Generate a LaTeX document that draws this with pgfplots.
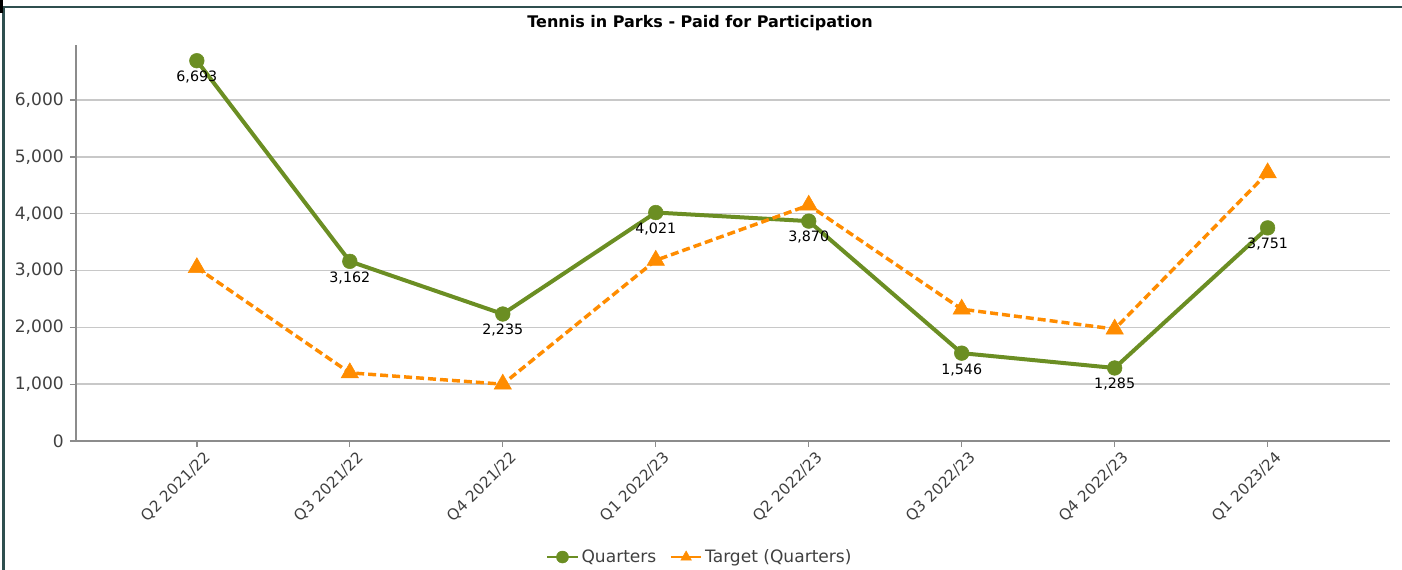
\documentclass[border=0pt]{standalone}
\usepackage{fontspec}
\setmainfont{DejaVu Sans}
\usepackage{pgfplots}
\pgfplotsset{compat=1.18}
\definecolor{qgreen}{HTML}{6B8E23}
\definecolor{torange}{HTML}{FF8C00}
\definecolor{framec}{HTML}{2F4F4F}
\definecolor{gridc}{HTML}{C8C8C8}
\definecolor{axc}{HTML}{8C8C8C}
\definecolor{lab}{HTML}{404040}

\begin{document}
\begin{tikzpicture}
% 1 px of the reference = 0.75pt
\path[use as bounding box] (0,0) rectangle (1051.5pt,427.5pt);
\draw[framec,line width=1.5pt] (0,422.6pt) -- (1051.5pt,422.6pt);
\draw[framec,line width=2.25pt] (2.25pt,0) -- (2.25pt,423.3pt);
\fill[black] (0,427.5pt) rectangle (2.25pt,417.75pt);
\node[font=\fontsize{12}{14}\selectfont\bfseries,text=black] at (525pt,410.25pt) {Tennis in Parks - Paid for Participation};

\begin{axis}[at={(57pt,96.75pt)},anchor=south west,scale only axis,
 width=985.5pt,height=297pt,
 xmin=-0.79,xmax=7.80,ymin=0,ymax=6970,
 axis lines=left,axis line style={-,axc,line width=1.1pt},
 tick style={axc,line width=1pt},tick align=outside,major tick length=4.5pt,
 ytick={0,1000,2000,3000,4000,5000,6000},
 ymajorgrids,major grid style={gridc,line width=1.1pt},
 xtick={0,...,7},
 xticklabels={Q2 2021/22,Q3 2021/22,Q4 2021/22,Q1 2022/23,Q2 2022/23,Q3 2022/23,Q4 2022/23,Q1 2023/24},
 /pgf/number format/.cd,1000 sep={,},assume math mode=true,/pgfplots/.cd,
 yticklabel style={font=\fontsize{12.8}{15}\selectfont,text=lab,inner sep=0pt,xshift=-4.5pt},
 xticklabel style={font=\fontsize{11.5}{14}\selectfont,text=lab,rotate=45,anchor=north east,inner sep=0pt,yshift=-5pt,xshift=2pt},
 legend style={at={(axis description cs:0.475,-0.293)},anchor=center,draw=none,fill=none,
   legend columns=-1,font=\fontsize{12.8}{15}\selectfont,text=lab,
   /tikz/every even column/.append style={column sep=8pt}},
 legend image code/.code={\draw[#1,solid,line width=1.6pt] (0pt,0pt) -- (23pt,0pt);
   \path[#1,solid,mark size=4.5pt] plot coordinates {(11.5pt,0pt)};},
 clip=false]
\addplot[qgreen,line width=3pt,mark=*,mark size=5.5pt,mark options={solid,line width=0.4pt},
 nodes near coords,
 every node near coord/.append style={anchor=north,inner sep=0pt,yshift=-7.5pt,
   text=black,font=\fontsize{10.7}{12}\selectfont}]
 coordinates {(0,6693)(1,3162)(2,2235)(3,4021)(4,3870)(5,1546)(6,1285)(7,3751)};
\addlegendentry{Quarters}
\addplot[torange,line width=2.6pt,dash pattern=on 6pt off 3pt,mark=triangle*,mark size=7.5pt,mark options={solid,line width=0.4pt}]
 coordinates {(0,3050)(1,1200)(2,1000)(3,3180)(4,4150)(5,2320)(6,1970)(7,4720)};
\addlegendentry{Target (Quarters)}
\end{axis}
\end{tikzpicture}
\end{document}
